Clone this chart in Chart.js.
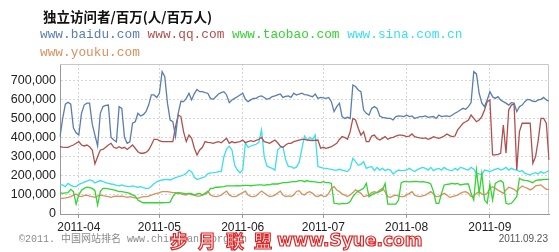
<!DOCTYPE html>
<html>
<head>
<meta charset="utf-8">
<script src="https://cdn.jsdelivr.net/npm/chart.js"></script>
<style>
html,body{margin:0;padding:0;background:#fff;}
#wrap{position:relative;width:559px;height:252px;overflow:hidden;}
#c{position:absolute;left:0;top:0;}
.t{position:absolute;white-space:pre;}
#title{left:43px;top:9px;font:bold 13.5px/14px "Noto Sans CJK SC";color:#111;}
.leg{left:40px;font:12.8px/13px "Liberation Mono",monospace;}
#foot{left:19px;top:235px;font:10px/10px "Liberation Mono","Noto Sans CJK SC";color:#8a8a8a;}
#stamp{right:11px;top:234px;font:10px/10px "Liberation Sans";color:#555;}
#wm1{left:170px;top:231px;font:bold 18px/18px "Noto Sans CJK SC";letter-spacing:10px;color:#fff;-webkit-text-stroke:1.2px #e02424;}
#wm2{left:277px;top:232px;font:bold 17px/17px "DejaVu Sans";color:#fff;-webkit-text-stroke:1.2px #e02424;}
</style>
</head>
<body>
<div id="wrap">
<canvas id="c" width="559" height="252"></canvas>
<div class="t" id="title">独立访问者/百万(人/百万人)</div>
<div class="t leg" style="top:27.5px"><span style="color:#5a7db0">www.baidu.com</span> <span style="color:#b0504e">www.qq.com</span> <span style="color:#33d433">www.taobao.com</span> <span style="color:#38dfee">www.sina.com.cn</span></div>
<div class="t leg" style="top:45.5px"><span style="color:#d8905c">www.youku.com</span></div>
<div class="t" id="foot">©2011. 中国网站排名 www.chinarank.org.cn</div>
<div class="t" id="stamp">2011.09.23</div>
<div class="t" id="wm1">步月联盟</div>
<div class="t" id="wm2">www.Syue.com</div>
</div>
<script>
// daily unique visitors, in thousands, from 2011-03-25
var startDate = [2011, 2, 25]
var monthTicks = ['2011-04','2011-05','2011-06','2011-07','2011-08','2011-09']
var yTicks = [0,100000,200000,300000,400000,500000,600000,700000]
var siteNames = ['www.baidu.com','www.qq.com','www.taobao.com','www.sina.com.cn','www.youku.com']
var siteColors = ['#5a7db0','#b0504e','#33d433','#38dfee','#d8905c']

var baidu = [405,500,575,585,575,450,425,413,527,570,
580,580,470,413,356,527,562,568,570,400,
387,378,562,553,401,370,378,475,483,527,
513,520,536,570,623,623,610,632,745,719,
580,492,483,405,527,590,588,605,632,597,
630,652,640,640,635,632,605,600,614,628,
635,640,623,583,597,605,614,623,632,600,
588,597,605,605,615,618,610,600,605,614,
618,623,628,610,615,618,610,632,623,628,
632,625,623,618,614,628,605,610,608,605,
610,588,536,562,580,510,500,506,500,675,
667,649,640,544,527,518,553,562,553,513,
506,503,500,500,492,510,513,512,510,518,
510,513,500,505,510,510,513,506,508,510,
500,518,510,512,513,510,518,527,535,544,
553,548,562,583,745,733,632,580,562,597,
640,614,605,614,597,588,580,570,583,580,
536,562,570,588,600,597,590,588,597,600,
610,597,590]

var qq = [352,350,349,349,356,361,370,379,361,356,
361,352,335,262,300,335,338,349,361,370,
349,344,352,344,349,338,349,361,344,326,
318,318,322,335,361,391,391,384,379,379,
379,379,379,457,518,510,430,379,413,396,
344,309,335,349,379,375,373,370,375,379,
373,385,396,370,379,373,376,379,387,373,
379,384,379,385,391,401,379,375,370,379,
387,373,355,349,361,370,370,379,383,387,
391,391,387,386,384,386,387,344,349,344,
348,352,361,370,390,405,400,391,431,500,
492,449,413,431,379,379,408,413,395,387,
396,405,391,398,401,408,413,413,410,405,
408,419,405,401,398,396,398,391,396,405,
400,396,401,408,419,410,405,408,440,457,
475,483,492,518,500,483,492,510,544,588,
597,309,309,312,318,466,318,544,570,576,
230,431,475,475,475,475,265,300,387,500,
500,475,283]

var taobao = [112,108,110,112,129,117,52,100,125,134,
140,138,134,122,47,117,134,134,132,129,
126,122,117,117,115,112,108,99,94,73,
65,59,59,59,59,59,59,59,59,60,
60,62,91,108,112,110,108,105,108,102,
99,105,108,99,105,112,134,134,140,140,
142,143,147,147,147,147,148,147,149,150,
150,148,150,151,152,152,150,154,152,157,
157,157,160,164,164,166,168,169,169,175,
175,169,175,170,169,168,166,164,169,164,
164,160,56,54,52,56,54,56,65,91,
108,120,126,134,160,91,100,108,112,117,
125,160,52,52,52,52,73,164,169,169,
168,169,170,169,168,169,167,164,157,117,
56,56,108,152,155,157,160,157,160,152,
155,157,157,108,73,230,108,213,73,56,
157,73,160,169,175,164,56,52,56,73,
91,187,178,176,175,169,164,175,178,178,
181,181,181]

var sina = [152,152,143,160,150,145,143,155,160,167,
172,178,175,162,169,175,170,164,160,157,
155,150,147,152,147,145,143,147,143,140,
143,138,134,134,145,158,169,175,178,180,
181,178,185,190,195,200,204,213,230,220,
192,181,185,190,195,210,215,216,218,222,
222,300,340,355,335,256,230,216,230,373,
349,356,361,365,375,440,300,251,244,239,
230,335,349,349,283,248,248,239,245,270,
340,408,387,401,391,413,248,244,240,239,
236,234,230,230,234,230,226,222,239,291,
274,255,260,274,239,245,248,227,244,230,
239,227,234,230,209,222,230,227,228,230,
239,230,222,232,239,244,239,230,244,227,
235,239,230,244,234,230,227,239,230,244,
240,234,230,244,235,213,210,204,230,227,
222,228,234,239,230,235,244,230,239,232,
230,222,227,213,209,204,212,216,209,222,
213,220,227]

var youku = [82,82,84,87,91,99,105,94,91,97,
99,94,91,87,94,99,96,94,91,87,
92,94,92,93,91,87,91,87,84,82,
87,91,91,94,99,104,108,112,117,117,
117,115,112,112,108,105,102,99,108,108,
99,94,94,99,110,120,100,94,91,93,
99,110,120,100,92,91,95,105,112,120,
99,92,91,95,108,120,110,99,91,93,
99,110,120,99,91,95,91,100,118,122,
105,99,112,117,108,95,91,99,94,92,
108,134,143,126,117,105,99,91,99,112,
126,117,108,91,95,99,112,117,112,125,
134,117,91,87,95,99,94,91,91,100,
108,117,99,94,91,95,99,108,117,105,
91,92,100,108,99,87,91,95,99,108,
115,117,108,91,94,108,117,105,99,108,
134,143,134,125,117,108,126,140,135,129,
117,134,147,140,134,126,134,147,150,152,
140,129,129]

var series = [baidu, qq, taobao, sina, youku]

var labels = baidu.map(function(v, i){
  return new Date(Date.UTC(startDate[0], startDate[1], startDate[2] + i)).toISOString().slice(0,10)
})

function isMonthStart(i){
  var l = labels[i]
  return l && l.slice(8) == '01' && monthTicks.indexOf(l.slice(0,7)) >= 0
}

// light frame on the top and right side of the plot
var framePlugin = {
  id: 'frame',
  beforeDatasetsDraw: function(chart){
    var a = chart.chartArea, ctx = chart.ctx
    ctx.save()
    ctx.strokeStyle = '#c8c8c8'
    ctx.lineWidth = 1
    ctx.beginPath()
    ctx.moveTo(a.left, a.top + 0.5)
    ctx.lineTo(a.right - 0.5, a.top + 0.5)
    ctx.lineTo(a.right - 0.5, a.bottom)
    ctx.stroke()
    ctx.restore()
  }
}

var ctx = document.getElementById('c')
var chart = new Chart(ctx, {
  type: 'line',
  data: {
    labels: labels,
    datasets: series.map(function(s, k){
      return {
        label: siteNames[k],
        data: s.map(function(v){ return v * 1000 }),
        borderColor: siteColors[k],
        borderWidth: 1.3,
        pointRadius: 0,
        tension: 0,
        fill: false
      }
    })
  },
  options: {
    responsive: false,
    animation: false,
    devicePixelRatio: 1,
    layout: { padding: { left: 0, top: 64, right: 10, bottom: 0 } },
    plugins: { legend: { display: false }, tooltip: { enabled: false } },
    scales: {
      x: {
        type: 'category',
        offset: false,
        grid: {
          color: function(c){ return isMonthStart(c.index) ? '#d6d6d6' : 'rgba(0,0,0,0)' },
          tickColor: function(c){ return isMonthStart(c.index) ? '#999' : 'rgba(0,0,0,0)' },
          tickLength: 4
        },
        border: { color: '#999', dash: [2,2] },
        ticks: {
          autoSkip: false,
          maxRotation: 0,
          padding: 2,
          color: '#222',
          font: { family: 'Liberation Sans', size: 12 },
          callback: function(v, i){ return isMonthStart(i) ? labels[i].slice(0,7) : '' }
        },
        afterFit: function(s){ s.height = 38 }
      },
      y: {
        min: 0,
        max: 785000,
        grid: { color: '#d6d6d6', drawTicks: false },
        border: { color: '#999', dash: [2,2] },
        ticks: {
          padding: 4,
          color: '#222',
          font: { family: 'Liberation Sans', size: 12.5 },
          callback: function(v){ return v.toLocaleString('en-US') }
        },
        afterBuildTicks: function(s){
          s.ticks = yTicks.map(function(v){ return { value: v } })
        },
        afterFit: function(s){ s.width = 60 }
      }
    }
  },
  plugins: [framePlugin]
})
</script>
</body>
</html>
